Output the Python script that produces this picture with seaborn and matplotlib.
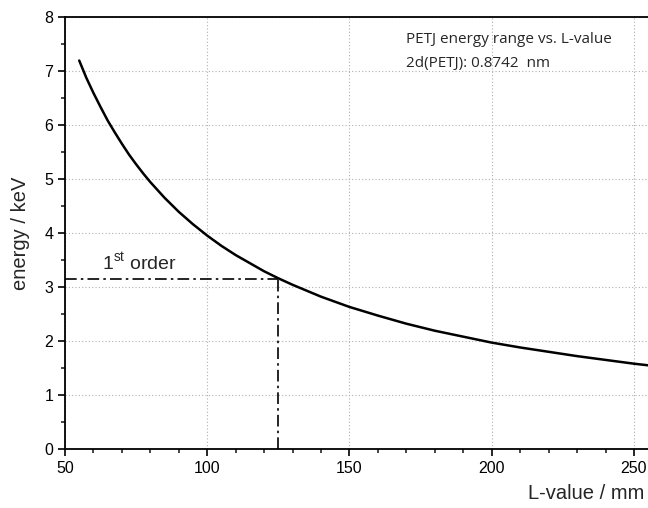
import numpy as np
import matplotlib.pyplot as plt
import seaborn as sns

# values
l_value = [55, 57.5, 60, 62.5, 65, 67.5, 70, 72.5, 75, 77.5, 80, 85, 90, 95, 100,
           105, 110, 115, 120, 125, 130, 140, 150, 160, 170, 180, 190, 200,
           210, 220, 230, 240, 250, 255]
energy = [7.19, 6.87, 6.59, 6.33, 6.08, 5.86, 5.65, 5.45, 5.27, 5.10, 4.94, 4.65,
          4.39, 4.16, 3.95, 3.76, 3.59, 3.44, 3.29, 3.16, 3.04, 2.82, 2.63,
          2.47, 2.32, 2.19, 2.08, 1.97, 1.88, 1.80, 1.72, 1.65, 1.58, 1.55]

first_order_l = 125
first_order_e = 3.14

sns.set_style("white")
plt.rcParams["font.family"] = ["Liberation Sans", "DejaVu Sans"]
plt.rcParams["mathtext.fontset"] = "custom"
plt.rcParams["mathtext.rm"] = "Liberation Sans"

fig = plt.figure(figsize=(6.48, 5.08), dpi=100)
ax = fig.add_axes([0.1003, 0.116, 0.9, 0.851])

sns.lineplot(x=l_value, y=energy, ax=ax, color="black", linewidth=1.8)

dashdot = (0, (7, 2.5, 1.5, 2.5))
ax.plot([50, first_order_l], [first_order_e, first_order_e], color="black",
        linewidth=1.2, linestyle=dashdot)
ax.plot([first_order_l, first_order_l], [0, first_order_e], color="black",
        linewidth=1.2, linestyle=dashdot)

ax.set_xlim(50, 255)
ax.set_ylim(0, 8)
ax.set_xticks([50, 100, 150, 200, 250])
ax.set_yticks(range(0, 9))
ax.set_xticks(np.arange(50, 256, 10), minor=True)
ax.set_yticks(np.arange(0, 8.01, 0.5), minor=True)
ax.grid(True, which="major", color="#b0b0b0", linestyle=(0, (1, 2)), linewidth=0.8)

ax.tick_params(axis="both", which="major", direction="out", length=5, width=1.2,
               labelsize=11.5, colors="black", bottom=True, left=True)
ax.tick_params(axis="both", which="minor", direction="out", length=3, width=1.2,
               bottom=True, left=True)
for side in ["left", "bottom", "top"]:
    ax.spines[side].set_color("black")
    ax.spines[side].set_linewidth(1.3)
ax.spines["right"].set_visible(False)

ax.set_xlabel("")
ax.set_ylabel("energy / keV", fontsize=14.5, labelpad=10)
fig.text(0.995, 0.01, "L-value / mm", ha="right", va="bottom", fontsize=14.5)

ax.text(63, 3.44, r"1$^{\mathrm{st}}$ order", fontsize=14, ha="left", va="center")
ax.text(170, 7.58, "PETJ energy range vs. L-value", fontsize=11,
        family=["Open Sans", "DejaVu Sans"], va="center", ha="left")
ax.text(170, 7.13, "2d(PETJ): 0.8742  nm", fontsize=11,
        family=["Open Sans", "DejaVu Sans"], va="center", ha="left")

fig.savefig("out.png", dpi=100)
